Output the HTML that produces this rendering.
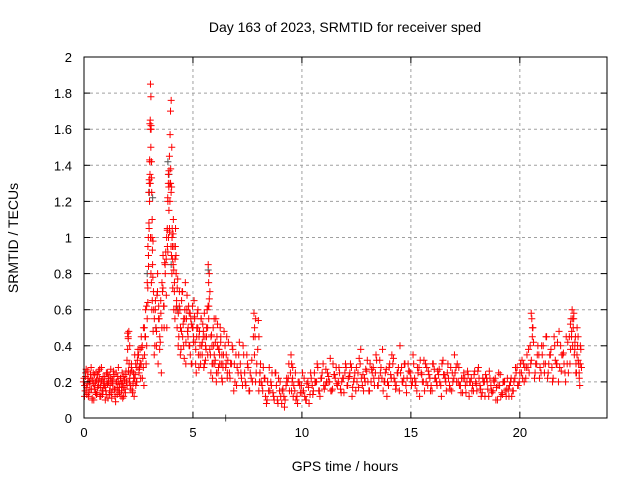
<!DOCTYPE html>
<html><head><meta charset="utf-8"><style>
html,body{margin:0;padding:0;background:#fff;}
svg{display:block;font-family:"Liberation Sans",sans-serif;}
</style></head><body>
<svg id="chart" width="640" height="480" xmlns="http://www.w3.org/2000/svg">
<rect x="0" y="0" width="640" height="480" fill="#fff"/>
<g id="grid"></g>
<g id="marks"></g>
<rect x="84" y="57" width="523" height="361" fill="none" stroke="#000" stroke-width="1"/>
<g id="ticks"></g>
<text x="345" y="32" font-size="14" text-anchor="middle" fill="#000">Day 163 of 2023, SRMTID for receiver sped</text>
<text x="345" y="471" font-size="14" text-anchor="middle" fill="#000">GPS time / hours</text>
<text transform="translate(18,238) rotate(-90)" font-size="14" text-anchor="middle" fill="#000">SRMTID / TECUs</text>
</svg>
<script>
const xTicks = [0,5,10,15,20];
const yTicks = [0,0.2,0.4,0.6,0.8,1,1.2,1.4,1.6,1.8,2];
const yTickLabels = ["0","0.2","0.4","0.6","0.8","1","1.2","1.4","1.6","1.8","2"];
const hours = [0,0.05,0.1,0.15,0.2,0.25,0.3,0.35,0.4,0.45,0.5,0.55,0.6,0.65,0.7,0.75,0.8,0.85,0.9,0.95,1.0,1.05,1.1,1.15,1.2,1.25,1.3,1.35,1.4,1.45,1.5,1.55,1.6,1.65,1.7,1.75,1.8,1.85,1.9,1.95,2.0,2.03,2.07,2.1,2.15,2.2,2.25,2.3,2.35,2.4,2.45,2.5,2.55,2.6,2.65,2.7,2.75,2.8,2.85,2.9,2.93,2.96,2.98,3.0,3.02,3.04,3.05,3.07,3.08,3.1,3.12,3.14,3.16,3.2,3.25,3.3,3.35,3.4,3.45,3.5,3.55,3.6,3.65,3.7,3.75,3.8,3.82,3.85,3.87,3.9,3.92,3.95,3.97,4.0,4.02,4.04,4.06,4.1,4.12,4.15,4.2,4.22,4.25,4.3,4.35,4.4,4.45,4.5,4.55,4.6,4.65,4.7,4.75,4.8,4.85,4.9,4.95,5.0,5.05,5.1,5.15,5.2,5.25,5.3,5.35,5.4,5.45,5.5,5.55,5.6,5.65,5.7,5.72,5.75,5.8,5.85,5.9,5.95,6.0,6.05,6.1,6.15,6.2,6.25,6.3,6.35,6.4,6.5,6.55,6.6,6.7,6.8,6.9,7.0,7.1,7.2,7.3,7.4,7.5,7.6,7.7,7.8,7.85,7.9,8.0,8.05,8.1,8.2,8.3,8.4,8.5,8.6,8.7,8.8,8.9,9.0,9.1,9.2,9.3,9.4,9.5,9.55,9.6,9.7,9.8,9.9,10.0,10.1,10.2,10.3,10.4,10.5,10.6,10.7,10.8,10.9,11.0,11.1,11.2,11.3,11.4,11.5,11.6,11.7,11.8,11.9,12.0,12.1,12.2,12.3,12.4,12.5,12.6,12.7,12.8,12.9,13.0,13.1,13.2,13.3,13.4,13.5,13.6,13.7,13.8,13.9,14.0,14.1,14.2,14.3,14.4,14.5,14.6,14.7,14.8,14.9,15.0,15.1,15.2,15.3,15.4,15.5,15.6,15.7,15.8,15.9,16.0,16.1,16.2,16.3,16.4,16.5,16.6,16.7,16.8,16.9,17.0,17.1,17.2,17.3,17.4,17.5,17.6,17.7,17.8,17.9,18.0,18.1,18.2,18.3,18.4,18.5,18.6,18.7,18.8,18.9,19.0,19.1,19.2,19.3,19.4,19.5,19.6,19.7,19.8,19.9,20.0,20.1,20.2,20.3,20.4,20.5,20.55,20.6,20.7,20.8,20.9,21.0,21.1,21.2,21.3,21.4,21.5,21.6,21.7,21.8,21.9,22.0,22.1,22.2,22.3,22.35,22.4,22.45,22.5,22.55,22.6,22.65,22.7,22.75,22.8];
const tec = [.22,.15,.27,.19,.12,.2,.24,.16,.21,.1,.18,.25,.14,.2,.22,.17,.28,.13,.19,.23,.15,.2,.11,.24,.18,.14,.21,.26,.16,.09,.2,.23,.15,.19,.12,.25,.17,.21,.14,.2,.47,.45,.3,.22,.16,.26,.19,.12,.24,.2,.32,.35,.28,.22,.39,.33,.18,.45,.3,.55,.64,.84,1.08,1.3,1.42,1.65,1.85,1.78,1.6,1.33,1.0,.93,.78,.6,.4,.5,.68,.3,.55,.42,.25,.7,.62,.86,.92,.5,1.04,1.2,1.3,1.37,1.45,1.57,1.7,1.76,1.28,1.0,.95,1.1,.82,.75,1.05,.9,.65,.77,.45,.6,.38,.7,.52,.33,.75,.55,.48,.62,.4,.55,.3,.5,.65,.42,.25,.58,.35,.48,.3,.4,.52,.28,.45,.38,.6,.85,.75,.66,.35,.46,.22,.4,.3,.55,.45,.25,.38,.5,.3,.2,.35,.28,.45,.32,.22,.4,.3,.18,.35,.25,.4,.2,.3,.15,.32,.58,.45,.25,.54,.2,.3,.15,.22,.1,.28,.18,.12,.25,.08,.2,.15,.06,.22,.3,.35,.2,.12,.25,.08,.18,.14,.22,.1,.17,.25,.13,.2,.3,.15,.22,.18,.27,.2,.33,.16,.24,.19,.28,.14,.22,.3,.18,.25,.12,.22,.28,.17,.38,.24,.2,.32,.15,.27,.22,.35,.18,.25,.38,.2,.12,.28,.22,.33,.16,.25,.4,.2,.3,.14,.26,.22,.35,.18,.28,.12,.24,.32,.2,.26,.15,.3,.22,.18,.27,.12,.24,.2,.3,.16,.25,.35,.2,.28,.14,.22,.18,.26,.2,.15,.24,.19,.28,.16,.22,.12,.2,.26,.15,.21,.1,.18,.24,.13,.2,.16,.12,.22,.15,.28,.18,.25,.32,.2,.28,.38,.3,.55,.5,.25,.35,.22,.4,.3,.45,.25,.35,.2,.4,.3,.48,.26,.36,.2,.42,.3,.55,.6,.5,.35,.45,.25,.4,.3,.18,.38];
const tec2 = [.18,.25,.13,.22,.2,.16,.28,.11,.19,.24,.14,.21,.17,.26,.12,.2,.15,.23,.18,.1,.25,.19,.22,.13,.27,.2,.16,.24,.12,.2,.17,.28,.14,.22,.19,.11,.23,.16,.26,.18,
.44,.48,.4,
.25,.3,.14,.22,.35,.18,.28,.38,.25,.3,.45,.22,.5,.35,.6,.4,.72,
.9,1.05,1.2,
1.35,1.6,1.5,1.62,1.42,1.25,1.1,.85,.98,.7,
.55,.65,.48,.8,.62,.45,.58,.75,.9,.5,.8,.68,.95,
.92,1.0,1.15,1.03,1.3,1.38,1.25,1.5,1.05,.88,1.02,
.95,.7,.88,
.8,.62,.72,
.58,.7,.5,.65,.45,.55,.6,.42,.68,.5,.58,.35,.52,.62,.45,.55,.38,.5,.6,.45,.35,.55,.42,.48,.3,.4,.5,.35,.62,
.8,.7,
.45,.3,.5,.35,.42,.25,.52,.38,.3,.45,.35,.28,.48,
.35,.25,.42,
.3,.38,.2,.28,.42,.22,.35,.18,.28,.25,.2,.5,
.55,.3,
.45,.25,
.2,.28,.12,.2,.15,.25,.1,.18,.22,.12,.16,.1,.2,.15,.3,
.28,
.18,.1,.2,.14,.25,.12,.19,.08,.22,.15,.2,.28,.12,.25,.16,.2,.23,.15,.3,.22,.18,.25,.2,.14,.28,.22,.3,.17,.25,.2,.33,.22,.15,.27,.2,.3,.25,.18,.32,.22,.28,.15,.25,.2,.3,.35,.22,.18,.28,.25,.2,.3,.22,.26,.18,.3,.2,.25,.32,.2,.15,.28,.24,.18,.3,.22,.26,.2,.3,.24,.15,.22,.28,.2,.25,.3,.18,.22,.25,.14,.24,.2,.18,.26,.15,.22,.12,.2,.24,.16,.22,.14,.2,.17,.25,.12,.2,.15,.22,.18,.12,.2,.25,.18,.3,.22,.28,.35,.25,.32,
.5,.42,
.3,.4,.28,.35,.25,.45,.3,.38,.22,.32,.42,.28,.35,.3,.45,.25,.38,
.48,.55,.58,.42,.3,.5,.32,.22,.4,.28];
const tec3 = [.2,.12,.23,.17,.26,.14,.19,.22,.1,.25,.16,.2,.13,.24,.18,.27,.12,.21,.15,.2,.17,.13,.25,.2,.15,.22,.11,.19,.23,.16,.25,.13,.2,.17,.22,.15,.19,.12,.21,.24,
.32,.38,.26,
.2,.18,.28,.15,.25,.22,.3,.2,.35,.27,.38,.3,.4,.28,.5,.45,.62,
.75,.95,1.0,
1.25,1.32,1.43,1.63,1.3,1.0,.8,.75,.6,.65,
.48,.35,.6,.4,.7,.55,.38,.65,.5,.72,.62,.85,.88,
1.0,1.05,1.22,1.35,1.28,1.05,1.2,1.3,.95,.9,.8,
.72,.85,.6,
.55,.95,.6,
.5,.4,.62,.35,.48,.7,.4,.55,.3,.6,.45,.4,.58,.3,.5,.42,.56,.3,.45,.5,.28,.4,.55,.35,.45,.58,.32,.45,.5,
.62,.55,
.38,.25,.4,.3,.55,.32,.2,.4,.28,.35,.42,.22,.3,
.4,.3,.22,
.25,.3,.15,.35,.25,.3,.18,.25,.35,.15,.22,.45,
.35,.2,
.38,.15,
.25,.18,.22,.08,.15,.2,.14,.25,.1,.15,.08,.12,.18,.22,.25,
.15,
.22,.15,.12,.2,.18,.15,.1,.2,.13,.18,.25,.2,.15,.22,.3,.18,.25,.2,.15,.24,.28,.2,.16,.22,.25,.18,.23,.28,.2,.15,.25,.3,.18,.22,.26,.15,.2,.28,.25,.18,.32,.22,.2,.27,.18,.24,.3,.2,.25,.15,.28,.22,.18,.3,.25,.2,.22,.15,.28,.25,.2,.3,.18,.22,.15,.27,.2,.24,.18,.32,.22,.25,.18,.15,.22,.28,.2,.18,.14,.22,.2,.12,.22,.15,.2,.26,.18,.14,.2,.22,.12,.18,.15,.22,.1,.18,.14,.2,.12,.16,.2,.15,.22,.28,.2,.25,.3,.22,.28,.4,
.58,.45,
.22,.3,.35,.25,.4,.3,.22,.35,.28,.45,.3,.2,.4,.35,.25,.3,.45,
.52,.45,.4,.55,.38,.25,.35,.45,.25,.3];
const grayHours = [2.9,3.0,3.15,3.3,3.85,3.9,4.0,4.3,5.7,6.5];
const grayTec = [0.8,1.25,1.22,0.5,1.42,1.35,0.85,0.6,0.82,0.0];

const X0=84, X1=607, Y0=418, Y1=57;
const xScale = h => X0 + h/24*(X1-X0);
const yScale = v => Y0 - v/2*(Y0-Y1);
const NS="http://www.w3.org/2000/svg";
const grid=document.getElementById('grid'), ticks=document.getElementById('ticks'), marks=document.getElementById('marks');
function mk(tag, attrs, parent){const e=document.createElementNS(NS,tag);for(const k in attrs)e.setAttribute(k,attrs[k]);parent.appendChild(e);return e;}

xTicks.forEach((t,i)=>{
  const x=xScale(t);
  if(t>0){const g=mk('line',{x1:x,x2:x,y1:Y1,y2:Y0,stroke:'#a0a0a0','stroke-dasharray':'3,3'},grid);
  
  }
  const a=mk('line',{x1:x,x2:x,y1:Y0,y2:Y0-6,stroke:'#000'},ticks);
  
  
  const b=mk('line',{x1:x,x2:x,y1:Y1,y2:Y1+6,stroke:'#000'},ticks);
  
  
  const l=mk('text',{x:x,y:Y0+19,'font-size':13,'text-anchor':'middle'},ticks);
  l.textContent=String(t);
  
  
});
yTicks.forEach((t,i)=>{
  const y=yScale(t);
  if(t>0&&t<2){const g=mk('line',{x1:X0,x2:X1,y1:y,y2:y,stroke:'#a0a0a0','stroke-dasharray':'3,3'},grid);
  
  }
  const a=mk('line',{x1:X0,x2:X0+6,y1:y,y2:y,stroke:'#000'},ticks);
  
  
  const b=mk('line',{x1:X1,x2:X1-6,y1:y,y2:y,stroke:'#000'},ticks);
  
  
  const l=mk('text',{x:X0-12,y:y+5,'font-size':13,'text-anchor':'end'},ticks);
  l.textContent=yTickLabels[i];
  
  
});
function plus(h,v,color,name,dx){
  if(v===undefined||h===undefined) return;
  const x=xScale(h)+dx, y=yScale(v);
  const p=mk('path',{d:`M${x-3.5},${y}H${x+3.5}M${x},${y-3.5}V${y+3.5}`,stroke:color,'stroke-width':1,fill:'none'},marks);
  
  
}
grayHours.forEach((h,i)=>plus(h,grayTec[i],'#555','gray-point',0));
hours.forEach((h,i)=>plus(h,tec2[i],'#ff0000','red-point',0.6));
hours.forEach((h,i)=>plus(h,tec3[i],'#ff0000','red-point',-0.6));
hours.forEach((h,i)=>plus(h,tec[i],'#ff0000','red-point',0));
</script>
</body></html>
